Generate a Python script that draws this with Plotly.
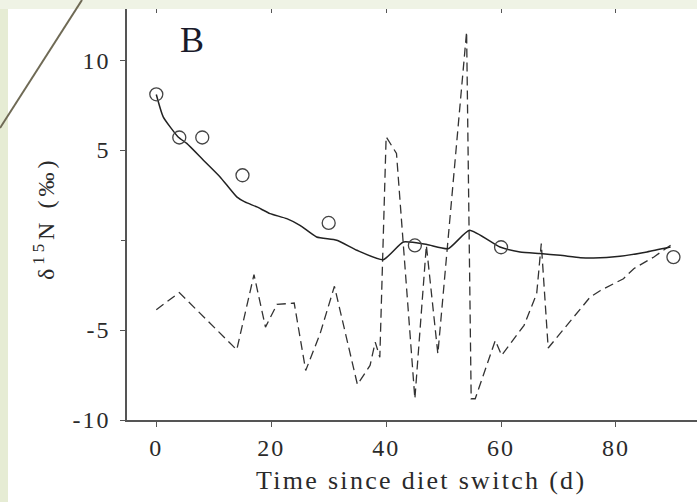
import plotly.graph_objects as go

# Observed data (circles)
obs_days = [0, 4, 8, 15, 30, 45, 60, 90]
obs_d15n = [8.1, 5.7, 5.7, 3.6, 0.95, -0.3, -0.4, -0.95]

# Model fit (solid line)
fit_days = [0, 1.2, 3.8, 5.3, 8.2, 11.1, 14.0, 15.4, 17.5, 19.8, 22.7, 25.0, 27.9, 31.4,
            34.9, 39.5, 43.0, 47.1, 50.8, 54.5, 59.8, 63.3, 66.8, 70.3, 73.8, 76.1,
            80.7, 85.4, 89.5]
fit_d15n = [8.09, 6.85, 5.73, 5.37, 4.44, 3.51, 2.40, 2.12, 1.84, 1.47, 1.19, 0.82, 0.17, -0.01,
            -0.57, -1.09, -0.11, -0.25, -0.48, 0.54, -0.39, -0.66, -0.75, -0.85, -0.98, -1.0,
            -0.90, -0.66, -0.39]

# Diet values (dashed line)
diet_days = [0, 4, 14, 17, 19, 21, 24, 26, 28.5, 31, 35, 37.2, 38.1, 38.9, 40, 41.8, 45, 47,
             49, 54, 54.8, 55.5, 59, 60.1, 64, 66.2, 67, 68.2, 75.5, 77.3, 81.3, 83.1, 86.6, 89.5]
diet_d15n = [-3.87, -2.92, -6.1, -1.92, -4.84, -3.58, -3.5, -7.25, -5.21, -2.57, -8.03, -6.97,
             -5.67, -6.51, 5.74, 4.81, -8.82, -0.29, -6.32, 11.58, -8.82, -8.82, -5.58, -6.41,
             -4.74, -2.98, -0.2, -6.0, -3.17, -2.80, -2.15, -1.59, -0.94, -0.29]

x_tickvals = [0, 20, 40, 60, 80]
x_ticktext = ["0", "20", "40", "60", "80"]
y_labeled = [-10, -5, 5, 10]
y_labeltext = ["-10", "-5", "5", "10"]
y_unlabeled = [0]

FONT = "Liberation Serif"
INK = "#2a2a2a"


def spaced(s, sp):
    return f'<span style="letter-spacing:{sp}px">{s}</span>'


fig = go.Figure()
fig.add_trace(go.Scatter(x=diet_days, y=diet_d15n, mode="lines",
                         line=dict(color="#333333", width=1.3, dash="9px,5px"),
                         showlegend=False))
fig.add_trace(go.Scatter(x=fit_days, y=fit_d15n, mode="lines",
                         line=dict(color="#222222", width=1.5, shape="spline", smoothing=0.5),
                         showlegend=False))
fig.add_trace(go.Scatter(x=obs_days, y=obs_d15n, mode="markers",
                         marker=dict(symbol="circle-open", size=13, color="#444444",
                                     line=dict(width=1.3)),
                         showlegend=False))
# invisible trace carrying the top and extra y axes
fig.add_trace(go.Scatter(x=obs_days, y=obs_d15n, mode="markers", xaxis="x2", yaxis="y2",
                         marker=dict(opacity=0), showlegend=False, hoverinfo="skip"))

W, H = 697, 502
L, R, T, B = 127, 0, 9, 82
pw, ph = W - L - R, H - T - B


def px(xp):
    return (xp - L) / pw


def py(yp):
    return (H - B - yp) / ph


tickfont = dict(size=24, family=FONT, color=INK)

fig.update_layout(
    width=W, height=H,
    margin=dict(l=L, r=R, t=T, b=B, pad=0),
    paper_bgcolor="white", plot_bgcolor="white",
    font=dict(family=FONT, color=INK),
    xaxis=dict(range=[-5.1, 94.1], tickvals=x_tickvals,
               ticktext=[spaced(t, 2) for t in x_ticktext], ticks="outside", ticklen=5,
               tickwidth=1.2, tickcolor="#555", showline=True, linecolor="#555", linewidth=1.5,
               showgrid=False, zeroline=False, tickfont=tickfont),
    xaxis2=dict(range=[-5.1, 94.1], overlaying="x", side="top", tickvals=x_tickvals,
                ticks="inside", ticklen=4, tickwidth=1.2, tickcolor="#555", showline=False,
                showgrid=False, zeroline=False, showticklabels=False),
    yaxis=dict(range=[-10, 12.84], tickvals=y_labeled,
               ticktext=[spaced(t, 2) for t in y_labeltext], ticks="outside",
               ticklen=5, tickwidth=1.2, tickcolor="#555", showline=True, linecolor="#555",
               linewidth=1.5, showgrid=False, zeroline=False, ticklabelstandoff=5,
               tickfont=tickfont),
    yaxis2=dict(range=[-10, 12.84], overlaying="y", side="left", tickvals=y_unlabeled,
                ticks="outside", ticklen=5, tickwidth=1.2, tickcolor="#555", showline=False,
                showgrid=False, zeroline=False, showticklabels=False),
    annotations=[
        dict(text=spaced("Time since diet switch (d)", 2.3), x=px(421), y=py(481),
             xref="paper", yref="paper", showarrow=False,
             font=dict(size=26, family=FONT, color=INK), xanchor="center", yanchor="middle"),
        dict(text=spaced("δ<sup>15</sup>N (‰)", 4), x=px(44), y=py(219), xref="paper",
             yref="paper", textangle=-90, showarrow=False,
             font=dict(size=24, family=FONT, color=INK), xanchor="center", yanchor="middle"),
        dict(text="B", x=px(192), y=py(40), xref="paper", yref="paper", showarrow=False,
             font=dict(size=36, family=FONT, color="#1a1a2a"), xanchor="center", yanchor="middle"),
    ],
    shapes=[
        dict(type="rect", xref="paper", yref="paper", x0=px(0), x1=px(8), y0=py(H), y1=py(0),
             fillcolor="#e6ecd4", line=dict(width=0), layer="above"),
        dict(type="rect", xref="paper", yref="paper", x0=px(0), x1=px(W), y0=py(9), y1=py(0),
             fillcolor="#eff3e5", line=dict(width=0), layer="above"),
        dict(type="line", xref="paper", yref="paper", x0=px(82), y0=py(0), x1=px(0), y1=py(128),
             line=dict(color="#6f6a55", width=2), layer="above"),
    ],
)

fig.write_html("out.html")
